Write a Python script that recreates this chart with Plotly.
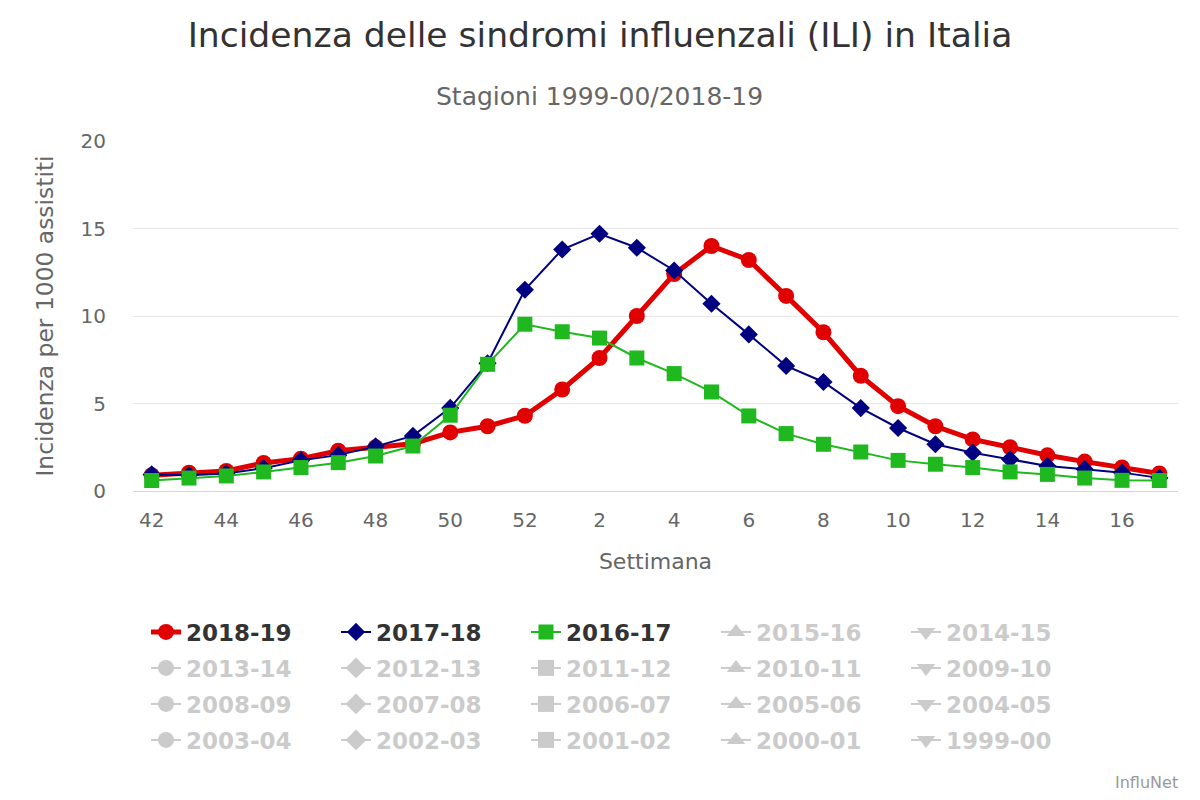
import plotly.graph_objects as go

# ---- data ----
weeks = [42, 43, 44, 45, 46, 47, 48, 49, 50, 51, 52,
         1, 2, 3, 4, 5, 6, 7, 8, 9, 10, 11, 12, 13, 14, 15, 16, 17]

ili_2018_19 = [0.9, 1.05, 1.15, 1.6, 1.85, 2.3, 2.5, 2.7, 3.35, 3.7, 4.3,
               5.8, 7.6, 10.0, 12.4, 14.0, 13.2, 11.15, 9.07, 6.58, 4.85,
               3.7, 2.95, 2.5, 2.04, 1.68, 1.35, 1.0]
ili_2017_18 = [0.95, 0.9, 1.0, 1.3, 1.75, 2.05, 2.55, 3.15, 4.75, 7.3, 11.5,
               13.8, 14.7, 13.9, 12.6, 10.7, 8.95, 7.15, 6.23, 4.74, 3.6,
               2.67, 2.19, 1.81, 1.43, 1.25, 1.05, 0.75]
ili_2016_17 = [0.6, 0.74, 0.86, 1.09, 1.34, 1.62, 2.0, 2.57, 4.33, 7.24, 9.53,
               9.1, 8.74, 7.6, 6.71, 5.66, 4.29, 3.28, 2.67, 2.23, 1.75,
               1.53, 1.34, 1.09, 0.95, 0.74, 0.61, 0.6]

season_names = ["2018-19", "2017-18", "2016-17", "2015-16", "2014-15",
                "2013-14", "2012-13", "2011-12", "2010-11", "2009-10",
                "2008-09", "2007-08", "2006-07", "2005-06", "2004-05",
                "2003-04", "2002-03", "2001-02", "2000-01", "1999-00"]
shown_values = {"2018-19": ili_2018_19, "2017-18": ili_2017_18, "2016-17": ili_2016_17}

tick_weeks = [w for w in weeks if w % 2 == 0]

# ---- styles ----
symbols = ["circle", "diamond", "square", "triangle-up", "triangle-down"]
shown_style = {
    "2018-19": dict(color="#e10000", lw=5, ms=16),
    "2017-18": dict(color="#000080", lw=2, ms=14),
    "2016-17": dict(color="#1fb81f", lw=2, ms=15),
}
FONT = "DejaVu Sans"

x_cat = [str(w) for w in weeks]

fig = go.Figure()
for i, name in enumerate(season_names):
    row = i // 5
    legend_id = "legend" if row == 0 else f"legend{row + 1}"
    sym = symbols[i % 5]
    if name in shown_values:
        st = shown_style[name]
        fig.add_trace(go.Scatter(
            x=x_cat, y=shown_values[name], name=name, mode="lines+markers",
            line=dict(color=st["color"], width=st["lw"]),
            marker=dict(symbol=sym, size=st["ms"], color=st["color"], line=dict(width=0)),
            legend=legend_id,
        ))
    else:
        # hidden season (no data shown, legend entry only)
        fig.add_trace(go.Scatter(
            x=[None], y=[None], name=f'<span style="color:#999999">{name}</span>',
            mode="lines+markers", visible="legendonly",
            line=dict(color="#999999", width=2),
            marker=dict(symbol=sym, size=16, color="#999999", line=dict(width=0)),
            legend=legend_id,
        ))

PT, PB, PL, PR = 141, 491, 133, 1178
ph = PB - PT
pw = PR - PL

def py(ypix):
    return (PB - ypix) / ph

legend_common = dict(
    orientation="h", xanchor="left", yanchor="middle", x=(146 - PL) / pw,
    font=dict(family=FONT, size=23, color="#333333", weight="bold"),
    entrywidth=145, entrywidthmode="pixels", bgcolor="rgba(0,0,0,0)",
)

fig.update_layout(
    width=1200, height=800,
    margin=dict(l=PL, r=1200 - PR, t=PT, b=800 - PB),
    paper_bgcolor="white", plot_bgcolor="white",
    font=dict(family=FONT, color="#666666"),
    title=dict(text="Incidenza delle sindromi influenzali (ILI) in Italia",
               x=0.5, xanchor="center", y=1 - 35 / 800, yanchor="middle",
               font=dict(family=FONT, size=34.6, color="#333333")),
    xaxis=dict(
        type="category", categoryorder="array", categoryarray=x_cat,
        range=[-0.5, len(weeks) - 0.5],
        tickmode="array", tickvals=[str(w) for w in tick_weeks],
        ticktext=[str(w) for w in tick_weeks],
        showgrid=False, showline=True, linecolor="#ccd6eb", linewidth=1,
        ticks="", ticklabelstandoff=11,
        tickfont=dict(family=FONT, size=20, color="#666666"),
        title=dict(text="Settimana", standoff=22,
                   font=dict(family=FONT, size=22, color="#666666")),
        zeroline=False,
    ),
    yaxis=dict(
        range=[0, 20], tickmode="linear", tick0=0, dtick=5,
        showgrid=True, gridcolor="#e6e6e6", gridwidth=1,
        showline=False, zeroline=False, ticks="", ticklabelstandoff=26,
        tickfont=dict(family=FONT, size=20, color="#666666"),
        title=dict(text="Incidenza per 1000 assistiti", standoff=20,
                   font=dict(family=FONT, size=23.4, color="#666666")),
    ),
    legend=dict(legend_common, y=py(632)),
    legend2=dict(legend_common, y=py(668)),
    legend3=dict(legend_common, y=py(704)),
    legend4=dict(legend_common, y=py(740)),
    annotations=[
        dict(text="Stagioni 1999-00/2018-19", xref="paper", yref="paper",
             x=(599 - PL) / pw, y=py(96), xanchor="center", yanchor="middle", showarrow=False,
             font=dict(family=FONT, size=25, color="#666666")),
        dict(text="InfluNet", xref="paper", yref="paper",
             x=(1180 - PL) / pw, y=py(782), xanchor="right", yanchor="middle",
             showarrow=False, font=dict(family=FONT, size=16, color="#999999")),
    ],
)

fig.write_html("out.html", config={"displayModeBar": False},
               post_script="document.body.style.margin='0px';")
